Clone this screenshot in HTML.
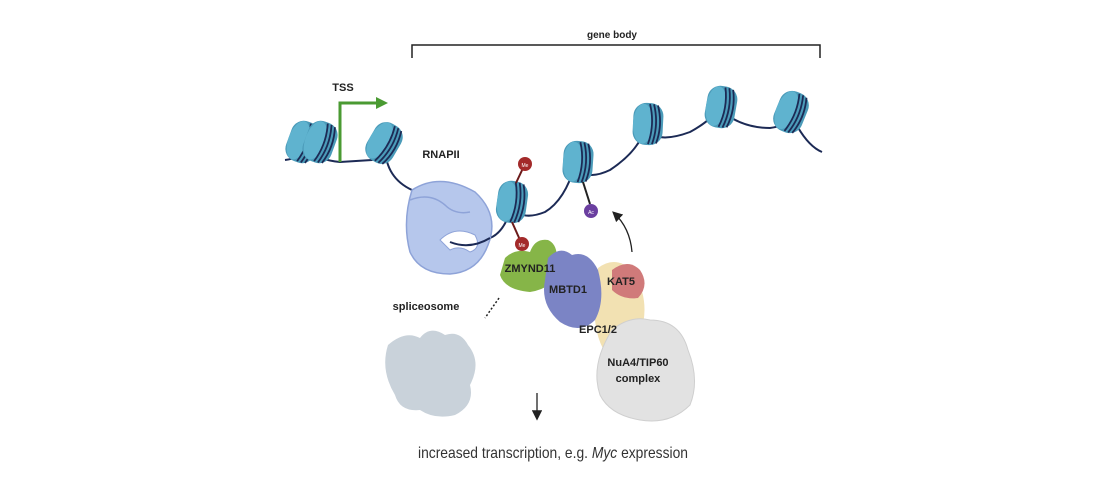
<!DOCTYPE html>
<html><head><style>body{margin:0;background:#fff}svg{display:block}text{font-family:"Liberation Sans",sans-serif}</style></head><body>
<svg width="1110" height="500" viewBox="0 0 1110 500" xmlns="http://www.w3.org/2000/svg">
<defs>
<marker id="ah" markerWidth="8" markerHeight="8" refX="6" refY="4" orient="auto"><path d="M0,0 L8,4 L0,8 z" fill="#222"/></marker>
<g id="nuc"><rect x="-15" y="-21" width="30" height="42" rx="13" fill="#4b9bb9"/><ellipse cx="-5" cy="0" rx="10" ry="20" fill="#5fb3cf"/><path d="M1,-20 Q7,0 1,20 M5,-20 Q11,0 5,20 M9,-19 Q15,0 9,19" stroke="#1c2a55" stroke-width="1.8" fill="none"/></g>
</defs>
<path d="M412,58 V45 H820 V58" stroke="#222" stroke-width="1.5" fill="none"/>
<text x="612" y="38" font-size="10" font-weight="bold" text-anchor="middle" fill="#222">gene body</text>
<!-- DNA -->
<path d="M285,160 Q300,158 310,150 Q318,160 340,162 L372,160 Q380,156 385,148 Q386,178 412,190 M460,238 Q475,245 490,238 Q505,232 512,205 Q520,222 545,212 Q565,200 575,165 Q585,182 610,170 Q640,150 645,127 Q655,145 690,132 Q712,120 718,108 Q740,128 770,128 Q788,126 790,112 Q805,145 822,152" stroke="#1c2a55" stroke-width="2" fill="none"/>
<path d="M340,162 V103 H378" stroke="#4a9a32" stroke-width="3" fill="none"/>
<path d="M376,97 L388,103 L376,109 z" fill="#4a9a32"/>
<text x="343" y="91" font-size="11" font-weight="bold" fill="#222" text-anchor="middle">TSS</text>
<use href="#nuc" transform="translate(303,142) rotate(20)"/>
<use href="#nuc" transform="translate(320,142) rotate(20)"/>
<use href="#nuc" transform="translate(384,143) rotate(30)"/>
<use href="#nuc" transform="translate(512,202) rotate(8)"/>
<use href="#nuc" transform="translate(578,162) rotate(4)"/>
<use href="#nuc" transform="translate(648,124) rotate(3)"/>
<use href="#nuc" transform="translate(721,107) rotate(10)"/>
<use href="#nuc" transform="translate(791,112) rotate(22)"/>
<text x="441" y="158" font-size="11" font-weight="bold" fill="#222" text-anchor="middle">RNAPII</text>
<!-- RNAPII -->
<path d="M412,190 Q440,172 475,192 Q500,215 488,245 Q478,272 450,274 Q420,274 410,252 Q402,222 412,190 z" fill="#b6c7ec" stroke="#8ea3d8" stroke-width="1.5"/>
<path d="M440,240 Q455,225 475,235 Q482,248 470,252 Q460,245 450,250 Z" fill="#fff" stroke="#8ea3d8"/>
<path d="M450,242 Q470,250 490,238" stroke="#1c2a55" stroke-width="2" fill="none"/>
<path d="M410,200 Q430,192 445,205 Q455,215 470,212" stroke="#8ea3d8" fill="none" stroke-width="1.5"/>
<line x1="516" y1="183" x2="524" y2="166" stroke="#6b1a1a" stroke-width="2"/>
<circle cx="525" cy="164" r="7" fill="#a32a2a"/><text x="525" y="167" font-size="5" fill="#fff" text-anchor="middle">Me</text>
<line x1="512" y1="222" x2="520" y2="240" stroke="#6b1a1a" stroke-width="2"/>
<circle cx="522" cy="244" r="7" fill="#a32a2a"/><text x="522" y="247" font-size="5" fill="#fff" text-anchor="middle">Me</text>
<line x1="583" y1="182" x2="590" y2="204" stroke="#222" stroke-width="2"/>
<circle cx="591" cy="211" r="7" fill="#6b3fa0"/><text x="591" y="214" font-size="5" fill="#fff" text-anchor="middle">Ac</text>
<path d="M632,252 Q630,228 614,213" stroke="#222" stroke-width="1.3" fill="none" marker-end="url(#ah)"/>
<!-- proteins -->
<path d="M598,268 Q615,255 632,270 Q652,300 640,335 Q628,360 605,352 Q588,325 598,268z" fill="#f2e1b2"/>
<path d="M505,258 Q515,248 530,252 Q535,238 548,240 Q560,245 556,270 Q555,288 530,292 Q505,290 500,275z" fill="#86b548"/>
<path d="M548,258 Q560,245 572,255 Q588,250 598,270 Q606,300 595,320 Q580,335 560,322 Q540,305 545,280z" fill="#7b84c5"/>
<path d="M612,270 Q628,258 640,270 Q650,285 638,298 Q622,300 612,290z" fill="#d07a7a"/>
<path d="M612,330 Q630,315 650,320 Q680,320 688,350 Q700,380 690,405 Q670,425 640,420 Q610,415 600,395 Q590,365 612,330z" fill="#e2e2e2" stroke="#cfcfcf"/>
<path d="M388,345 Q405,330 420,338 Q430,325 445,335 Q460,330 468,345 Q482,362 470,385 Q475,405 455,415 Q435,420 420,410 Q400,412 395,395 Q380,370 388,345z" fill="#c9d2da"/>
<text x="530" y="272" font-size="11" font-weight="bold" fill="#222" text-anchor="middle">ZMYND11</text>
<text x="568" y="293" font-size="11" font-weight="bold" fill="#222" text-anchor="middle">MBTD1</text>
<text x="621" y="285" font-size="11" font-weight="bold" fill="#222" text-anchor="middle">KAT5</text>
<text x="598" y="333" font-size="11" font-weight="bold" fill="#222" text-anchor="middle">EPC1/2</text>
<text x="638" y="366" font-size="11" font-weight="bold" fill="#222" text-anchor="middle">NuA4/TIP60</text>
<text x="638" y="382" font-size="11" font-weight="bold" fill="#222" text-anchor="middle">complex</text>
<text x="426" y="310" font-size="11" font-weight="bold" fill="#222" text-anchor="middle">spliceosome</text>
<line x1="499" y1="298" x2="485" y2="318" stroke="#222" stroke-width="1.5" stroke-dasharray="2,2"/>
<line x1="537" y1="393" x2="537" y2="418" stroke="#222" stroke-width="1.3" marker-end="url(#ah)"/>
<text x="553" y="458" font-size="16" fill="#333" text-anchor="middle" textLength="270" lengthAdjust="spacingAndGlyphs">increased transcription, e.g. <tspan font-style="italic">Myc</tspan> expression</text>
</svg>
</body></html>
